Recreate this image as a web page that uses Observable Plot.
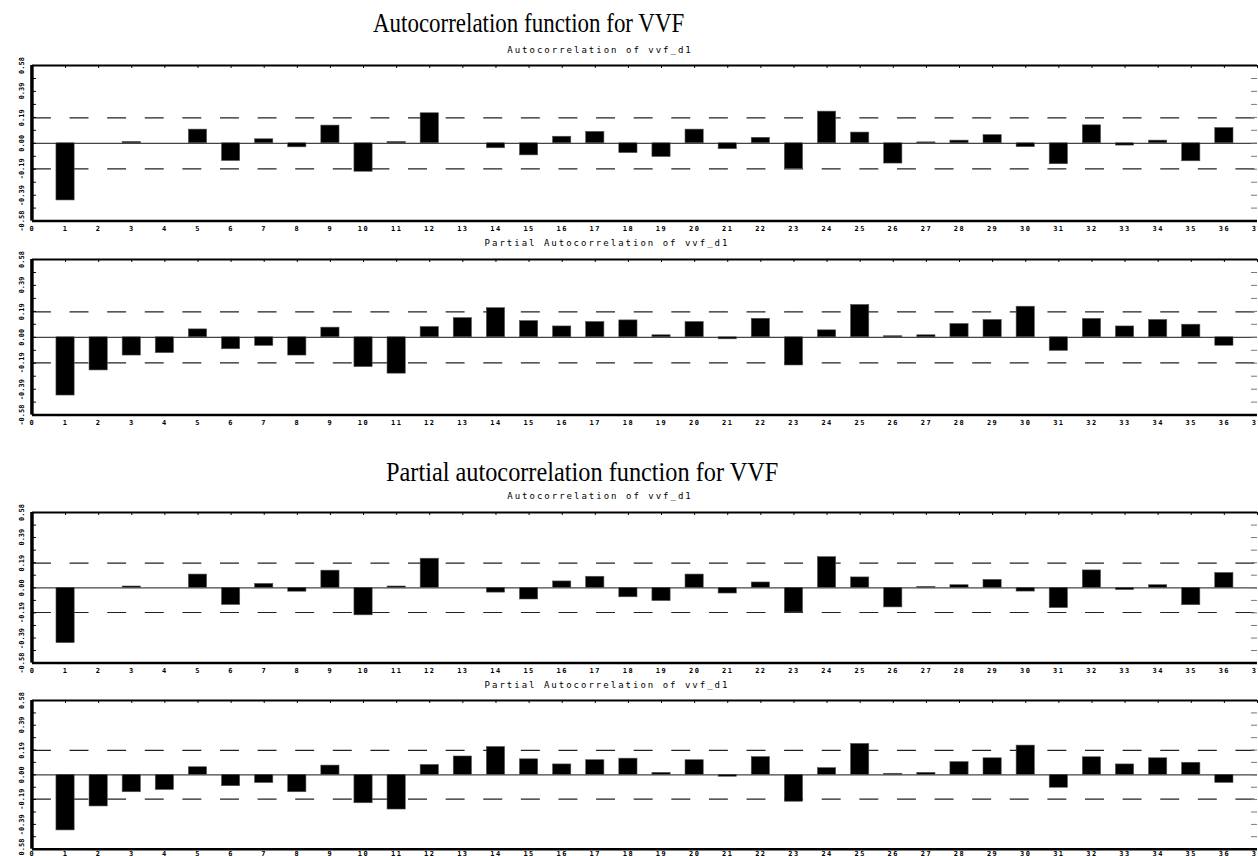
<!DOCTYPE html>
<html><head><meta charset="utf-8">
<script src="https://cdn.jsdelivr.net/npm/d3@7"></script>
<script src="https://cdn.jsdelivr.net/npm/@observablehq/plot@0.6"></script>
<style>
html,body{margin:0;padding:0;background:#fff;overflow:hidden;}
#root{position:relative;width:1258px;height:856px;overflow:hidden;background:#fff;}
.title{position:absolute;font-family:"Liberation Serif","Times New Roman",serif;font-size:27px;line-height:27px;white-space:nowrap;transform-origin:0 0;transform:scaleX(0.85);color:#000;}
.title.wide{transform:scaleX(0.9);}
.sub{position:absolute;font-family:"DejaVu Sans Mono",monospace;font-size:9px;line-height:9px;letter-spacing:2px;white-space:nowrap;transform:translateX(-50%);color:#000;}
.panel{position:absolute;left:0;}
</style></head>
<body><div id="root"></div>
<script>
// ---- data ----
const lags = [1,2,3,4,5,6,7,8,9,10,11,12,13,14,15,16,17,18,19,20,21,22,23,24,25,26,27,28,29,30,31,32,33,34,35,36];
const acfValues = [-0.426,0,0.01,0,0.102,-0.132,0.03,-0.03,0.132,-0.212,0.01,0.224,0,-0.037,-0.09,0.049,0.085,-0.073,-0.102,0.102,-0.044,0.041,-0.19,0.236,0.08,-0.151,0.007,0.02,0.061,-0.029,-0.156,0.134,-0.017,0.02,-0.134,0.114];
const pacfValues = [-0.434,-0.247,-0.136,-0.118,0.059,-0.089,-0.064,-0.136,0.072,-0.222,-0.271,0.077,0.143,0.217,0.121,0.081,0.114,0.126,0.015,0.114,-0.015,0.138,-0.21,0.052,0.241,0.008,0.015,0.099,0.129,0.228,-0.101,0.137,0.081,0.129,0.094,-0.063];
const confBounds = [-0.19, 0.19];
const xTickValues = [0,1,2,3,4,5,6,7,8,9,10,11,12,13,14,15,16,17,18,19,20,21,22,23,24,25,26,27,28,29,30,31,32,33,34,35,36,37];
const yTickValues = [-0.58,-0.39,-0.19,0,0.19,0.39,0.58];
const yTickLabels = ["-0.58","-0.39","-0.19","0.00","0.19","0.39","0.58"];
const yMinorTicks = [-0.58,-0.483,-0.387,-0.29,-0.193,-0.097,0,0.097,0.193,0.29,0.387,0.483,0.58];
const mainTitles = ["Autocorrelation function for VVF","Partial autocorrelation function for VVF"];
const panelTitles = ["Autocorrelation of vvf_d1","Partial Autocorrelation of vvf_d1"];

const root = document.getElementById("root");
function addDiv(cls, text, left, top){
  const d = document.createElement("div");
  d.className = cls; d.textContent = text;
  d.style.left = left + "px"; d.style.top = top + "px";
  root.appendChild(d);
}

const W = 1261, ML = 32, MR = 1, MT = 4, MB = 16;
const labelMap = new Map(yTickValues.map((v,i)=>[v, yTickLabels[i]]));

function panel(values, frameTop, frameBottom, xPad){
  const rows = lags.map((l,i)=>({lag:l, v:values[i]}));
  const innerH = frameBottom - frameTop;
  const innerW = W - ML - MR;
  const H = innerH + MT + MB;
  const halfW = 0.275;
  const p = Plot.plot({
    width: W, height: H,
    marginLeft: ML, marginRight: MR, marginTop: MT, marginBottom: MB,
    style: {fontFamily: "'DejaVu Sans Mono', monospace", fontSize: "7px", fontWeight: "bold", background: "transparent", overflow: "visible"},
    x: {domain: [0, 37], axis: null, label: null},
    y: {domain: [-0.58, 0.58], axis: null, label: null},
    marks: [
      Plot.ruleY(confBounds, {stroke: "#222", strokeWidth: 1.2, strokeDasharray: "19,18.7"}),
      Plot.ruleY([0], {stroke: "#444", strokeWidth: 1.2}),
      Plot.rect(rows, {x1: d => d.lag - halfW, x2: d => d.lag + halfW, y1: () => 0, y2: "v", fill: "#000", stroke: "#555", strokeWidth: 0.6}),
      Plot.tickY(yMinorTicks, {y: d => d, insetRight: innerW - 4, stroke: "#000"}),
      Plot.tickY(yMinorTicks, {y: d => d, insetLeft: innerW - 6, stroke: "#777"}),
      Plot.tickX(xTickValues, {x: d => d, insetBottom: innerH - 3, stroke: "#000"}),
      Plot.ruleY([0.58], {stroke: "#000", strokeWidth: 2}),
      Plot.ruleY([-0.58], {stroke: "#000", strokeWidth: 2.5}),
      Plot.ruleX([0], {stroke: "#000", strokeWidth: 3.5, dx: -0.5}),
      Plot.axisY(yTickValues, {label: null, tickSize: 0, tickRotate: -90, tickPadding: 8, fontSize: 7, tickFormat: d => labelMap.get(d)}),
      Plot.axisX(xTickValues, {label: null, tickSize: 0, tickPadding: xPad, tickFormat: d => String(d)})
    ]
  });
  d3.select(p).selectAll('g[aria-label="x-axis tick label"]').style("letter-spacing", "1.5px");
  p.classList.add("panel");
  p.style.top = (frameTop - MT) + "px";
  root.appendChild(p);
}

addDiv("title", mainTitles[0], 373, 10);
addDiv("sub", panelTitles[0], 600, 46);
panel(acfValues, 65, 221, 5);
addDiv("sub", panelTitles[1], 607, 239);
panel(pacfValues, 259, 415, 5);
addDiv("title wide", mainTitles[1], 386, 459);
addDiv("sub", panelTitles[0], 600, 492);
panel(acfValues, 512, 663, 5);
addDiv("sub", panelTitles[1], 607, 681);
panel(pacfValues, 700, 849, 2);
</script>
</body></html>
